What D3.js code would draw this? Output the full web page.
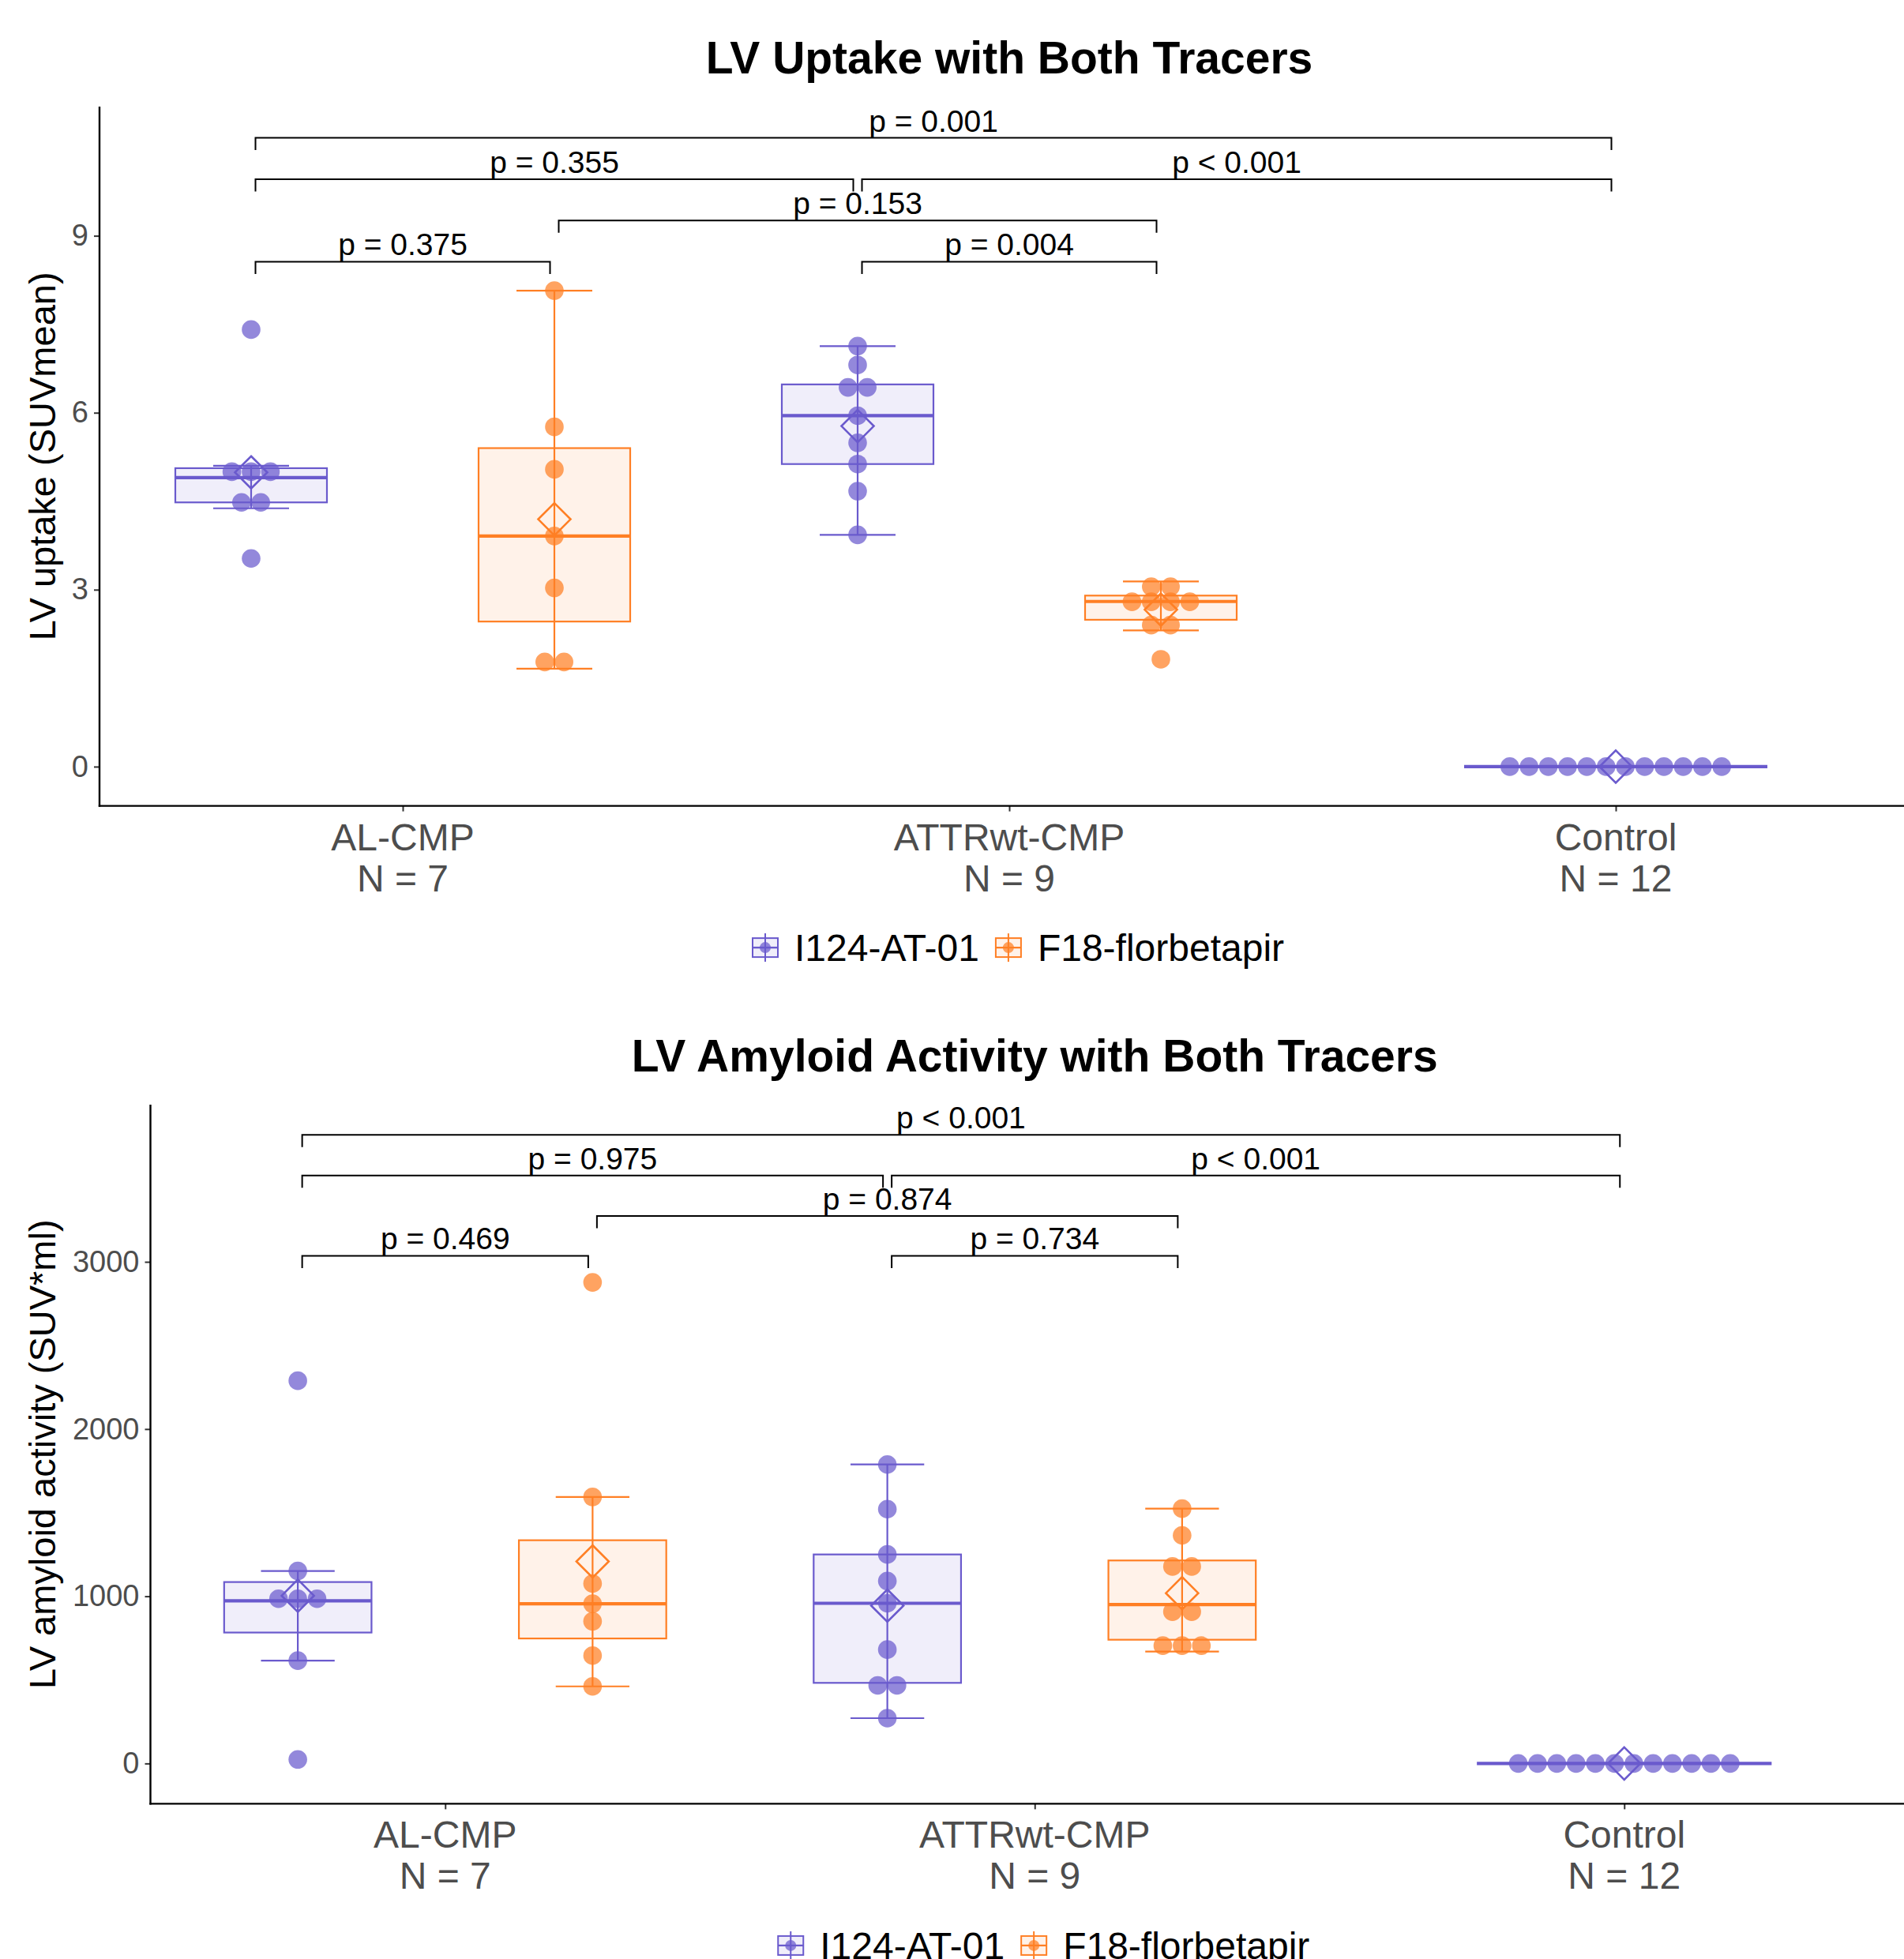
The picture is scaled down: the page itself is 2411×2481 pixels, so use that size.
<!DOCTYPE html>
<html><head><meta charset="utf-8">
<script src="https://cdn.jsdelivr.net/npm/d3@7"></script>
<style>
body{margin:0;background:#fff;}
svg{display:block;font-family:"Liberation Sans",Arial,Helvetica,sans-serif;}
</style>
</head><body>
<script>
// ---------- DATA ----------
const categories = ["AL-CMP", "ATTRwt-CMP", "Control"];
const groupN = [7, 9, 12];
const tracers = ["I124-AT-01", "F18-florbetapir"];
const tracerColors = ["#6A5ACD", "#FF7F24"];

// Panel 1: LV uptake (SUVmean)
const uptakeAL_I124 = [3.53, 4.38, 4.58, 4.90, 5.02, 5.10, 7.41];
const uptakeAL_F18 = [1.66, 1.89, 3.03, 3.91, 5.04, 5.76, 8.07];
const uptakeATTR_I124 = [3.93, 4.67, 5.13, 5.49, 5.95, 6.38, 6.48, 6.81, 7.13];
const uptakeATTR_F18 = [1.82, 2.31, 2.49, 2.69, 2.80, 2.85, 2.90, 2.96, 3.14];
const uptakeControl_I124 = [0, 0, 0, 0, 0, 0, 0, 0, 0, 0, 0, 0];
const uptakeTicks = [0, 3, 6, 9];
const uptakePLabels = ["p = 0.001", "p = 0.355", "p < 0.001", "p = 0.153", "p = 0.375", "p = 0.004"];
const uptakePHeights = [10.66, 9.96, 9.96, 9.26, 8.56, 8.56];

// Panel 2: LV amyloid activity (SUV*ml)
const activityAL_I124 = [24, 615, 951, 973, 1019, 1151, 2289];
const activityAL_F18 = [461, 645, 850, 955, 1076, 1594, 2877];
const activityATTR_I124 = [271, 452, 482, 681, 958, 1091, 1250, 1521, 1788];
const activityATTR_F18 = [669, 700, 740, 865, 950, 1142, 1214, 1364, 1524];
const activityControl_I124 = [0, 0, 0, 0, 0, 0, 0, 0, 0, 0, 0, 0];
const activityTicks = [0, 1000, 2000, 3000];
const activityPLabels = ["p < 0.001", "p = 0.975", "p < 0.001", "p = 0.874", "p = 0.469", "p = 0.734"];
const activityPHeights = [3759, 3516, 3516, 3274, 3036, 3036];

// comparisons: [categoryIndex, tracerIndex]
const compFrom = [[0, 0], [0, 0], [1, 0], [0, 1], [0, 0], [1, 0]];
const compTo   = [[2, 0], [1, 0], [2, 0], [1, 1], [0, 1], [1, 1]];

// ---------- DRAWING ----------
const W = 2411, H = 2481;
const svg = d3.select("body").append("svg").attr("width", W).attr("height", H);
svg.append("rect").attr("width", W).attr("height", H).attr("fill", "#fff");

function boxStats(vals) {
  const s = vals.slice().sort(d3.ascending);
  const q1 = d3.quantile(s, 0.25), med = d3.quantile(s, 0.5), q3 = d3.quantile(s, 0.75);
  const iqr = q3 - q1;
  const inside = s.filter(v => v >= q1 - 1.5 * iqr && v <= q3 + 1.5 * iqr);
  return {q1, med, q3, lo: d3.min(inside), hi: d3.max(inside), mean: d3.mean(s)};
}

// ggplot2 "dotdensity" binning along y
function dotBins(vals, bw) {
  const s = vals.slice().sort(d3.ascending);
  const bins = [];
  let end = -Infinity, cur = null;
  s.forEach(v => {
    if (v >= end) { cur = {values: []}; bins.push(cur); end = v + bw; }
    cur.values.push(v);
  });
  bins.forEach(b => b.center = (d3.min(b.values) + d3.max(b.values)) / 2);
  return bins;
}

function drawPanel(p) {
  const g = svg.append("g");
  const x = d3.scalePoint().domain(categories).range([p.left, p.right]).padding(0.5);
  const step = x.step();
  const y = d3.scaleLinear().domain(p.yDomain).range([p.bottom, p.top]);
  const groupX = (ci, ti) => {
    const n = p.series[ci].length;
    return x(categories[ci]) + (n > 1 ? (ti - (n - 1) / 2) * step * 0.5 : 0);
  };
  const boxW = ci => step * 0.5 / p.series[ci].length;
  const cxMid = (p.left + p.right) / 2;

  // title
  g.append("text").attr("x", cxMid).attr("y", p.top - 42)
    .attr("text-anchor", "middle").attr("font-size", 57).attr("font-weight", "bold")
    .attr("fill", "#000").text(p.title);

  // y axis title
  g.append("text")
    .attr("transform", `translate(70,${(p.top + p.bottom) / 2}) rotate(-90)`)
    .attr("text-anchor", "middle").attr("font-size", 47).attr("fill", "#000")
    .text(p.yTitle);

  // y axis
  const yAxis = d3.axisLeft(y).tickValues(p.ticks).tickSize(7).tickPadding(7).tickFormat(d3.format("d"));
  const ya = g.append("g").attr("transform", `translate(${p.left},0)`).call(yAxis);
  ya.select(".domain").remove();
  ya.selectAll(".tick line").attr("stroke", "#333").attr("stroke-width", 2);
  ya.selectAll(".tick text").attr("font-size", 38).attr("fill", "#4D4D4D")
    .attr("font-family", "Liberation Sans, Arial, sans-serif");
  g.append("line").attr("x1", p.left).attr("x2", p.left).attr("y1", p.top).attr("y2", p.bottom + 1.2)
    .attr("stroke", "#000").attr("stroke-width", 2.4);

  // x axis
  const xAxis = d3.axisBottom(x).tickSize(7).tickFormat("");
  const xa = g.append("g").attr("transform", `translate(0,${p.bottom})`).call(xAxis);
  xa.select(".domain").remove();
  xa.selectAll(".tick line").attr("stroke", "#333").attr("stroke-width", 2);
  g.append("line").attr("x1", p.left - 1.2).attr("x2", p.right).attr("y1", p.bottom).attr("y2", p.bottom)
    .attr("stroke", "#000").attr("stroke-width", 2.4);
  categories.forEach((c, ci) => {
    const t = g.append("text").attr("text-anchor", "middle").attr("font-size", 48).attr("fill", "#4D4D4D");
    t.append("tspan").attr("x", x(c)).attr("y", p.bottom + 56).text(c);
    t.append("tspan").attr("x", x(c)).attr("y", p.bottom + 108).text("N = " + groupN[ci]);
  });

  // boxes, dots, errorbars, means
  const dotR = 11.8, dotStep = 24.4;
  p.series.forEach((list, ci) => list.forEach((vals, ti) => {
    const s = boxStats(vals);
    const cx = groupX(ci, ti), bw = boxW(ci), col = tracerColors[ti];
    const gg = g.append("g");
    gg.append("rect").attr("x", cx - bw / 2).attr("y", y(s.q3)).attr("width", bw)
      .attr("height", Math.max(0, y(s.q1) - y(s.q3)))
      .attr("fill", col).attr("fill-opacity", 0.1).attr("stroke", col).attr("stroke-width", 2.2);
    gg.append("line").attr("x1", cx - bw / 2).attr("x2", cx + bw / 2)
      .attr("y1", y(s.med)).attr("y2", y(s.med)).attr("stroke", col).attr("stroke-width", 4.2);
    dotBins(vals, p.binwidth).forEach(b => {
      const n = b.values.length;
      b.values.forEach((v, k) => {
        gg.append("circle").attr("cx", cx + (k - (n - 1) / 2) * dotStep).attr("cy", y(b.center))
          .attr("r", dotR).attr("fill", col).attr("fill-opacity", 0.72);
      });
    });
    gg.append("line").attr("x1", cx).attr("x2", cx).attr("y1", y(s.lo)).attr("y2", y(s.hi))
      .attr("stroke", col).attr("stroke-width", 2.2);
    [s.lo, s.hi].forEach(v => gg.append("line").attr("x1", cx - bw / 4).attr("x2", cx + bw / 4)
      .attr("y1", y(v)).attr("y2", y(v)).attr("stroke", col).attr("stroke-width", 2.2));
    const my = y(s.mean), d = 20.5;
    gg.append("path").attr("d", `M${cx},${my - d}L${cx + d},${my}L${cx},${my + d}L${cx - d},${my}Z`)
      .attr("fill", "none").attr("stroke", col).attr("stroke-width", 2.6);
  }));

  // significance brackets
  const shorten = 5.5, tip = 15.5;
  compFrom.forEach((f, i) => {
    const t = compTo[i];
    const x1 = groupX(f[0], f[1]) + shorten, x2 = groupX(t[0], t[1]) - shorten;
    const yy = y(p.pHeights[i]);
    g.append("path").attr("d", `M${x1},${yy + tip}L${x1},${yy}L${x2},${yy}L${x2},${yy + tip}`)
      .attr("fill", "none").attr("stroke", "#000").attr("stroke-width", 2);
    g.append("text").attr("x", (x1 + x2) / 2).attr("y", yy - 8).attr("text-anchor", "middle")
      .attr("font-size", 39).attr("fill", "#000").text(p.pLabels[i]);
  });

  // legend
  const lg = g.append("g");
  const keyCy = p.bottom + 179.5;
  const keyW = 34, gapKT = 20, gapItems = 20;
  let lx = cxMid - 326;
  tracers.forEach((tname, ti) => {
    const col = tracerColors[ti];
    const kx = lx + keyW / 2;
    lg.append("line").attr("x1", kx).attr("x2", kx).attr("y1", keyCy - 18).attr("y2", keyCy + 18)
      .attr("stroke", col).attr("stroke-width", 2);
    lg.append("rect").attr("x", lx + 1).attr("y", keyCy - 12).attr("width", keyW - 2).attr("height", 24)
      .attr("fill", col).attr("fill-opacity", 0.1).attr("stroke", col).attr("stroke-width", 2);
    lg.append("line").attr("x1", lx + 1).attr("x2", lx + keyW - 1).attr("y1", keyCy).attr("y2", keyCy)
      .attr("stroke", col).attr("stroke-width", 2.4);
    lg.append("circle").attr("cx", kx).attr("cy", keyCy).attr("r", 7)
      .attr("fill", col).attr("fill-opacity", 0.72);
    const txt = lg.append("text").attr("font-size", 48).attr("fill", "#000")
      .attr("x", lx + keyW + gapKT).attr("y", keyCy + 17).text(tname);
    lx += keyW + gapKT + txt.node().getComputedTextLength() + gapItems;
  });
}

drawPanel({
  title: "LV Uptake with Both Tracers",
  yTitle: "LV uptake (SUVmean)",
  left: 126, right: 2430, top: 135, bottom: 1020.6,
  yDomain: [-0.665, 11.19],
  ticks: uptakeTicks,
  binwidth: 0.25,
  series: [[uptakeAL_I124, uptakeAL_F18], [uptakeATTR_I124, uptakeATTR_F18], [uptakeControl_I124]],
  pLabels: uptakePLabels, pHeights: uptakePHeights
});

drawPanel({
  title: "LV Amyloid Activity with Both Tracers",
  yTitle: "LV amyloid activity (SUV*ml)",
  left: 190.5, right: 2430, top: 1399, bottom: 2284.4,
  yDomain: [-241, 3940],
  ticks: activityTicks,
  binwidth: 100,
  series: [[activityAL_I124, activityAL_F18], [activityATTR_I124, activityATTR_F18], [activityControl_I124]],
  pLabels: activityPLabels, pHeights: activityPHeights
});
</script>
</body></html>
